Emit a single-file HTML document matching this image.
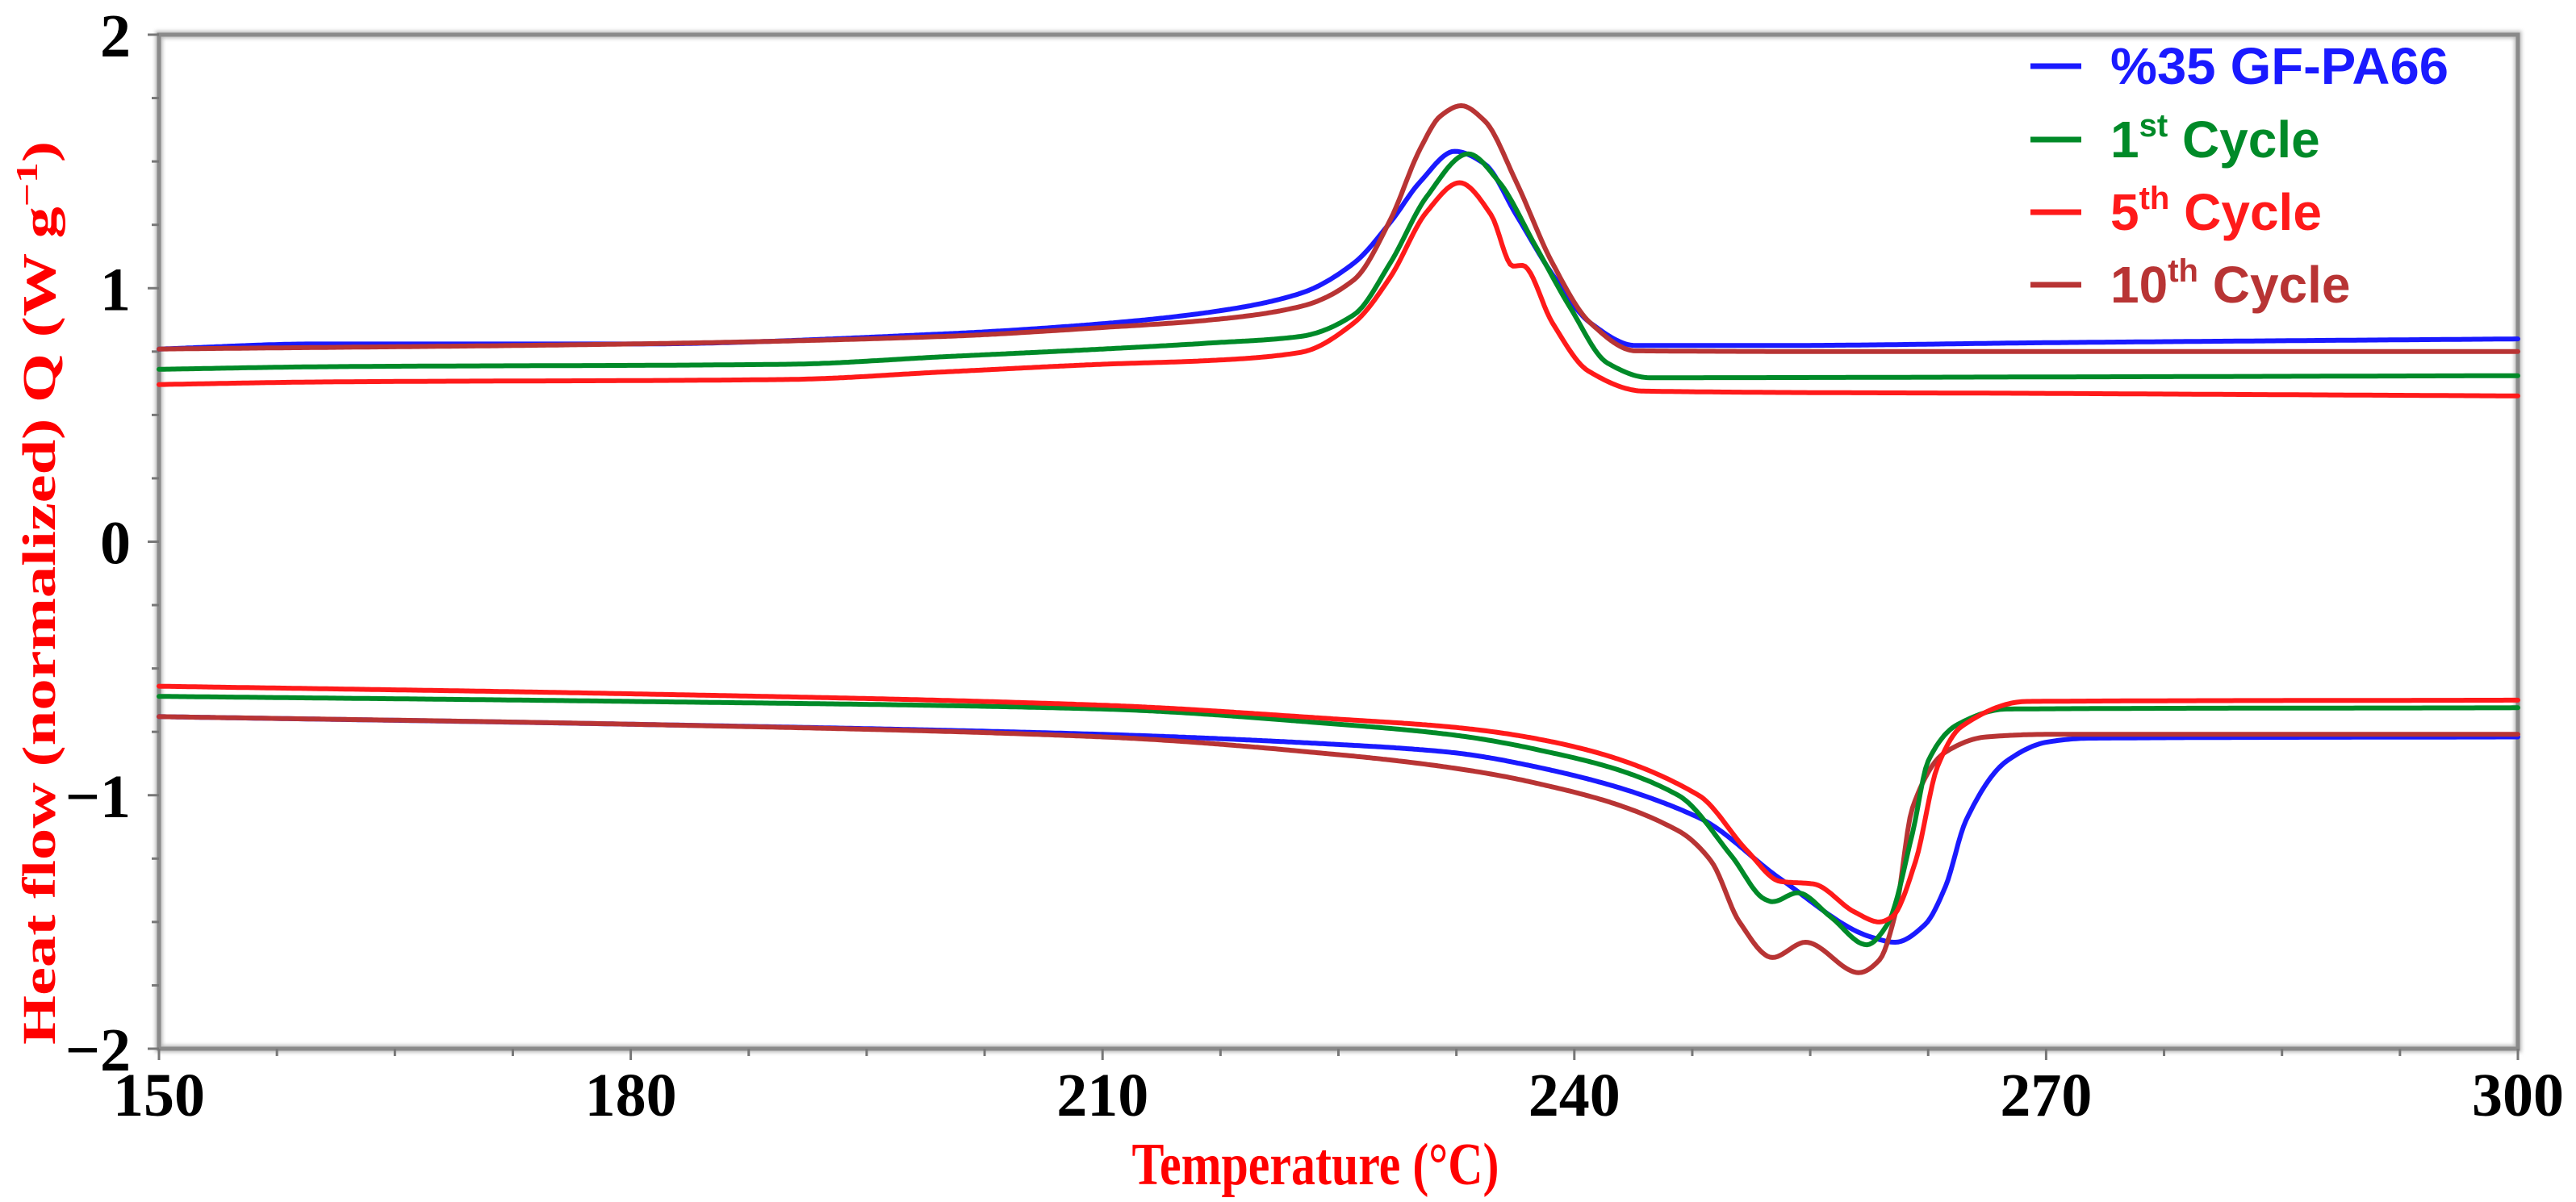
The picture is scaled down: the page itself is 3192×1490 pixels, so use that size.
<!DOCTYPE html>
<html><head><meta charset="utf-8">
<style>
html,body{margin:0;padding:0;background:#fff;}
svg{display:block;}
</style></head>
<body>
<svg id="chart" width="3192" height="1490" viewBox="0 0 3192 1490" xmlns="http://www.w3.org/2000/svg">
<defs>
<filter id="sh" x="-5%" y="-5%" width="110%" height="110%"><feGaussianBlur stdDeviation="2.5"/></filter>
</defs>
<rect x="0" y="0" width="3192" height="1490" fill="#fff"/>
<g id="frame">
<rect x="197" y="43" width="2923" height="1257" fill="none" stroke="#bbb" stroke-width="9" filter="url(#sh)"/>
<rect x="197" y="43" width="2923" height="1257" fill="none" stroke="#8a8a8a" stroke-width="5"/>
</g>
<g id="ticks"></g>
<g id="series"></g>
<text transform="translate(68,735) rotate(-90)" text-anchor="middle" font-family="'Liberation Serif',serif" font-weight="bold" font-size="58" fill="#ff0000" textLength="1120" lengthAdjust="spacingAndGlyphs">Heat flow (normalized) Q (W g<tspan font-size="38" dy="-22">−1</tspan><tspan dy="22">)</tspan></text>
<text x="1630" y="1468" text-anchor="middle" font-family="'Liberation Serif',serif" font-weight="bold" font-size="74" fill="#ff0000" textLength="455" lengthAdjust="spacingAndGlyphs">Temperature (°C)</text>
<g id="legend"></g>
</svg>
<script>
const xTicks = [150, 180, 210, 240, 270, 300];
const yTicks = [2, 1, 0, -1, -2];
const yTickLabels = ["2", "1", "0", "\u22121", "\u22122"];

const seriesNames = ["%35 GF-PA66", "1st Cycle", "5th Cycle", "10th Cycle"];
const seriesColors = ["#1a1aff", "#008a28", "#ff1a1a", "#b83434"];

// Cooling (crystallization) curves
const blueUpT = [150,160,180,200,210,216.9,222.6,226.0,228.3,230.2,232.4,234.3,236.3,238.6,241.0,243.9,252.8,270,300];
const blueUpV = [0.76,0.78,0.78,0.82,0.86,0.906,0.98,1.10,1.26,1.42,1.54,1.49,1.29,1.055,0.864,0.774,0.774,0.785,0.80];
const greenUpT = [150,160,190,200,210,216.9,222.6,226.0,228.3,230.6,233.25,235.2,237.5,239.8,242.1,244.8,270,300];
const greenUpV = [0.68,0.69,0.70,0.73,0.76,0.784,0.81,0.896,1.10,1.36,1.53,1.42,1.17,0.917,0.705,0.647,0.65,0.655];
const redUpT = [150,160,190,200,210,216.9,222.6,226.0,228.3,230.6,232.7,234.7,236.1,236.7,238.6,240.9,244.4,270,300];
const redUpV = [0.62,0.63,0.64,0.67,0.70,0.715,0.747,0.864,1.044,1.30,1.416,1.29,1.087,1.09,0.864,0.673,0.594,0.585,0.575];
const darkUpT = [150,180,200,210,216.9,222.6,226.0,228.3,230.2,231.5,232.8,234.3,236.3,238.6,241.0,243.9,260,300];
const darkUpV = [0.76,0.78,0.81,0.845,0.875,0.928,1.034,1.27,1.55,1.68,1.72,1.66,1.42,1.10,0.864,0.753,0.75,0.75];

// Heating (melting) curves
const blueDnT = [150,180,210,225,232,237.4,247.9,253.1,258.9,260.4,262.3,263.6,264.9,267.5,270.1,272.7,300];
const blueDnV = [-0.69,-0.72,-0.76,-0.80,-0.83,-0.886,-1.088,-1.33,-1.56,-1.58,-1.51,-1.36,-1.10,-0.865,-0.79,-0.775,-0.77];
const greenDnT = [150,180,210,225,232,237.4,246.6,250.0,252.1,252.6,254.2,256.3,258.6,259.9,261.5,262.5,264.4,267.5,300];
const greenDnV = [-0.61,-0.63,-0.66,-0.72,-0.76,-0.817,-1.0,-1.24,-1.41,-1.42,-1.385,-1.48,-1.59,-1.51,-1.15,-0.865,-0.72,-0.66,-0.655];
const redDnT = [150,180,210,225,232,237.4,247.9,251.0,253.1,255.2,257.8,259.4,260.2,261.7,263.1,264.6,268.8,300];
const redDnV = [-0.57,-0.60,-0.645,-0.70,-0.73,-0.775,-1.0,-1.22,-1.34,-1.35,-1.46,-1.50,-1.48,-1.26,-0.886,-0.73,-0.63,-0.625];
const darkDnT = [150,180,210,225,232,237.4,246.6,248.7,250.5,252.6,254.7,258.1,259.4,260.4,261.5,263.6,266.2,270.1,300];
const darkDnV = [-0.69,-0.72,-0.77,-0.84,-0.89,-0.95,-1.14,-1.26,-1.50,-1.64,-1.58,-1.70,-1.65,-1.47,-1.05,-0.83,-0.77,-0.76,-0.76];

const NS = "http://www.w3.org/2000/svg";
const X0 = 197, X1 = 3120, Y0 = 1300, Y1 = 43;
const xMin = 150, xMax = 300, yMin = -2, yMax = 2;
function xs(t){ return X0 + (t - xMin) / (xMax - xMin) * (X1 - X0); }
function ys(v){ return Y0 - (v - yMin) / (yMax - yMin) * (Y0 - Y1); }

function mk(tag, attrs){
  const e = document.createElementNS(NS, tag);
  for (const k in attrs) e.setAttribute(k, attrs[k]);
  return e;
}

const tickG = document.getElementById('ticks');
for (let t = xMin; t <= xMax + 0.01; t += 7.5) {
  const major = Math.abs((t - xMin) % 30) < 0.01;
  const l = mk('line', {x1: xs(t), x2: xs(t), y1: Y0, y2: Y0 + (major ? 14 : 9), stroke: '#777', 'stroke-width': 3});
  
  
  tickG.appendChild(l);
}
xTicks.forEach((t) => {
  const tx = mk('text', {x: xs(t), y: 1383, 'text-anchor': 'middle', 'font-family': "'Liberation Serif',serif", 'font-weight': 'bold', 'font-size': 76, fill: '#000'});
  tx.textContent = String(t);
  
  
  tickG.appendChild(tx);
});
for (let v = yMin; v <= yMax + 0.001; v += 0.25) {
  const major = Math.abs(v - Math.round(v)) < 0.001;
  const l = mk('line', {x1: X0 - (major ? 14 : 9), x2: X0, y1: ys(v), y2: ys(v), stroke: '#777', 'stroke-width': 3});
  
  
  tickG.appendChild(l);
}
yTicks.forEach((v, i) => {
  const tx = mk('text', {x: 162, y: ys(v) + 27, 'text-anchor': 'end', 'font-family': "'Liberation Serif',serif", 'font-weight': 'bold', 'font-size': 76, fill: '#000'});
  tx.textContent = yTickLabels[i];
  
  
  tickG.appendChild(tx);
});

// Monotone cubic (Fritsch-Carlson) interpolation, sampled densely
function monoPath(T, V){
  const n = T.length;
  const d = [], m = new Array(n);
  for (let i = 0; i < n - 1; i++) d.push((V[i+1] - V[i]) / (T[i+1] - T[i]));
  m[0] = d[0]; m[n-1] = d[n-2];
  for (let i = 1; i < n - 1; i++) {
    if (d[i-1] * d[i] <= 0) m[i] = 0;
    else {
      const h0 = T[i] - T[i-1], h1 = T[i+1] - T[i];
      const w1 = 2*h1 + h0, w2 = h1 + 2*h0;
      m[i] = (w1 + w2) / (w1 / d[i-1] + w2 / d[i]);
    }
  }
  let path = 'M' + xs(T[0]).toFixed(1) + ',' + ys(V[0]).toFixed(1);
  for (let i = 0; i < n - 1; i++) {
    const h = T[i+1] - T[i];
    const steps = Math.max(4, Math.round(h * 6));
    for (let s = 1; s <= steps; s++) {
      const u = s / steps, t = T[i] + u * h;
      const h00 = 2*u*u*u - 3*u*u + 1, h10 = u*u*u - 2*u*u + u, h01 = -2*u*u*u + 3*u*u, h11 = u*u*u - u*u;
      const v = h00*V[i] + h10*h*m[i] + h01*V[i+1] + h11*h*m[i+1];
      path += ' L' + xs(t).toFixed(1) + ',' + ys(v).toFixed(1);
    }
  }
  return path;
}

const serG = document.getElementById('series');
const curves = [
  [blueUpT, blueUpV, 0, 'blue-cooling-curve'], [darkUpT, darkUpV, 3, 'cycle10-cooling-curve'],
  [greenUpT, greenUpV, 1, 'cycle1-cooling-curve'], [redUpT, redUpV, 2, 'cycle5-cooling-curve'],
  [blueDnT, blueDnV, 0, 'blue-heating-curve'], [darkDnT, darkDnV, 3, 'cycle10-heating-curve'],
  [greenDnT, greenDnV, 1, 'cycle1-heating-curve'], [redDnT, redDnV, 2, 'cycle5-heating-curve']
];
curves.forEach((c) => {
  const path = mk('path', {d: monoPath(c[0], c[1]), fill: 'none', stroke: seriesColors[c[2]], 'stroke-width': 6, 'stroke-linejoin': 'round', 'stroke-linecap': 'round'});
  
  
  serG.appendChild(path);
});

const legG = document.getElementById('legend');
const legY = [82, 173, 263, 353];
const legSup = ['', 'st', 'th', 'th'];
const legBase = ['%35 GF-PA66', '1', '5', '10'];
seriesNames.forEach((name, i) => {
  const ln = mk('line', {x1: 2516, x2: 2579, y1: legY[i], y2: legY[i], stroke: seriesColors[i], 'stroke-width': 7});
  
  
  legG.appendChild(ln);
  const tx = mk('text', {x: 2615, y: legY[i] + 22, 'font-family': "'Liberation Sans Narrow','Liberation Sans',sans-serif", 'font-weight': 'bold', 'font-size': 64, fill: seriesColors[i]});
  
  
  if (i === 0) {
    tx.textContent = legBase[i];
    tx.setAttribute('textLength', 419);
    tx.setAttribute('lengthAdjust', 'spacingAndGlyphs');
  } else {
    const a = document.createElementNS(NS, 'tspan'); a.textContent = legBase[i];
    const s = document.createElementNS(NS, 'tspan'); s.textContent = legSup[i];
    s.setAttribute('font-size', '40'); s.setAttribute('dy', '-26');
    const b = document.createElementNS(NS, 'tspan'); b.textContent = ' Cycle';
    b.setAttribute('dy', '26');
    tx.appendChild(a); tx.appendChild(s); tx.appendChild(b);
  }
  legG.appendChild(tx);
});
</script>
</body></html>
